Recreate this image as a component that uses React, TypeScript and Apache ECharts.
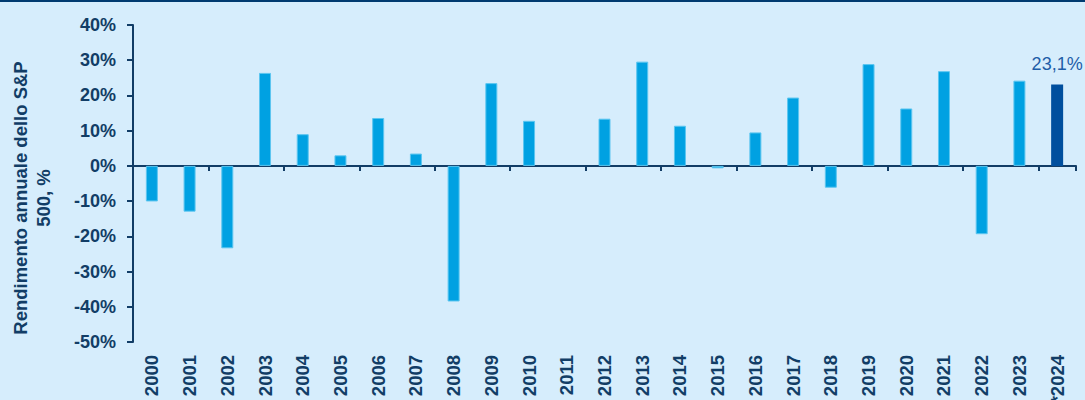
import React, { useEffect, useRef } from "react";
import * as echarts from "echarts";

const years = [
  "2000", "2001", "2002", "2003", "2004", "2005", "2006", "2007", "2008", "2009",
  "2010", "2011", "2012", "2013", "2014", "2015", "2016", "2017", "2018", "2019",
  "2020", "2021", "2022", "2023", "*2024",
];
const returnsPct = [
  -10.1, -13.0, -23.4, 26.4, 9.0, 3.0, 13.6, 3.5, -38.5, 23.5,
  12.8, 0.0, 13.4, 29.6, 11.4, -0.7, 9.5, 19.4, -6.2, 28.9,
  16.3, 26.9, -19.4, 24.2, 23.1,
];
const yMin = -50;
const yMax = 40;
const yStep = 10;
const yTitle = "Rendimento annuale dello S&P\n500, %";

const NAVY = "#123d66";
const BAR = "#00a1e2";
const BAR_LAST = "#004f9e";
const BG = "#d6edfc";

export default function App() {
  const ref = useRef<HTMLDivElement>(null);
  useEffect(() => {
    document.body.style.margin = "0";
    const chart = echarts.init(ref.current!, undefined, { renderer: "svg" });
    const last = returnsPct.length - 1;
    chart.setOption({
      animation: false,
      backgroundColor: BG,
      textStyle: { fontFamily: "Liberation Sans, Arial, sans-serif" },
      grid: {
        left: 133,
        right: 9,
        top: 25,
        bottom: 58,
        containLabel: false,
        outerBoundsMode: "none",
      },
      graphic: [
        { type: "rect", left: 0, top: 0, shape: { width: 1085, height: 2 }, style: { fill: "#003a70" } },
        {
          type: "text",
          x: 32,
          y: 198,
          rotation: Math.PI / 2,
          style: {
            text: yTitle,
            font: "bold 18.5px 'Liberation Sans', Arial, sans-serif",
            fill: NAVY,
            align: "center",
            verticalAlign: "middle",
            lineHeight: 23,
          },
        },
      ],
      xAxis: [
        {
          type: "category",
          data: years,
          axisLine: { onZero: true, lineStyle: { color: NAVY, width: 2 } },
          axisTick: { show: true, length: 5, lineStyle: { color: NAVY, width: 2 } },
          axisLabel: { show: false },
        },
        {
          type: "category",
          data: years,
          position: "bottom",
          axisLine: { show: false, onZero: false },
          axisTick: { show: false },
          axisLabel: {
            rotate: 90,
            margin: 13,
            color: NAVY,
            fontWeight: "bold",
            fontSize: 18.5,
            fontFamily: "Liberation Sans, Arial, sans-serif",
          },
        },
      ],
      yAxis: {
        type: "value",
        min: yMin,
        max: yMax,
        interval: yStep,
        splitLine: { show: false },
        axisLine: { show: true, lineStyle: { color: NAVY, width: 2 } },
        axisTick: { show: true, length: 6, lineStyle: { color: NAVY, width: 2 } },
        axisLabel: {
          margin: 17,
          color: NAVY,
          fontWeight: "bold",
          fontSize: 18,
          fontFamily: "Liberation Sans, Arial, sans-serif",
          formatter: (v: number) => `${v}%`,
        },
      },
      series: [
        {
          type: "bar",
          xAxisIndex: 0,
          barWidth: 12,
          data: returnsPct.map((v, i) => ({
            value: v,
            itemStyle:
              i === last
                ? { color: BAR_LAST, borderWidth: 0 }
                : { color: BAR, borderColor: "#5cc6f0", borderWidth: v === 0 ? 0 : 1 },
            label:
              i === last
                ? {
                    show: true,
                    position: "top",
                    distance: 12,
                    color: "#1f5ea8",
                    fontSize: 18,
                    fontFamily: "Liberation Sans, Arial, sans-serif",
                    formatter: (p: any) => `${Number(p.value).toFixed(1).replace(".", ",")}%`,
                  }
                : { show: false },
          })),
        },
      ],
    });
    return () => chart.dispose();
  }, []);
  return <div ref={ref} style={{ width: 1085, height: 400 }} />;
}
